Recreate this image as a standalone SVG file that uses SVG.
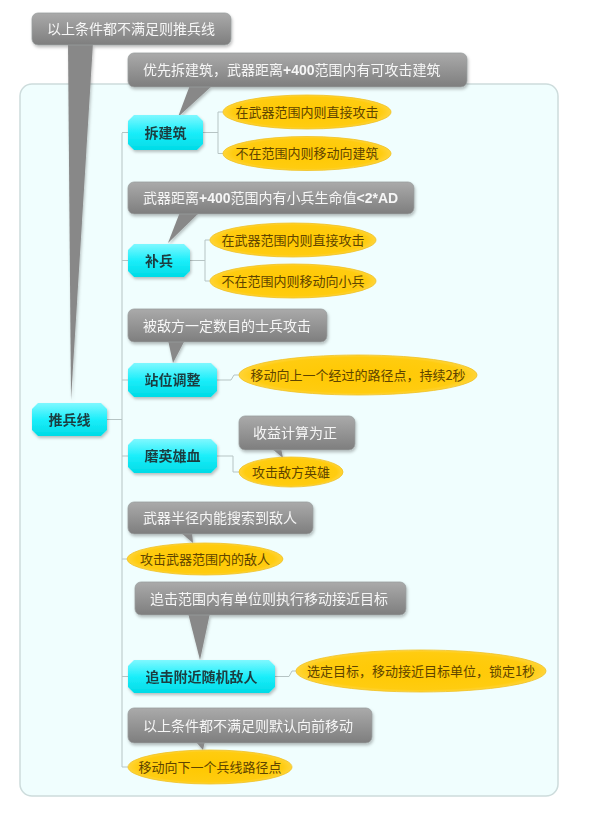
<svg xmlns="http://www.w3.org/2000/svg" width="599" height="813" viewBox="0 0 599 813">
<defs>
<linearGradient id="gGray" x1="0" y1="0" x2="0" y2="1">
<stop offset="0" stop-color="#aaaaaa"/><stop offset="1" stop-color="#7e7e7e"/>
</linearGradient>
<linearGradient id="gCyan" x1="0" y1="0" x2="0" y2="1">
<stop offset="0" stop-color="#7ff8ff"/><stop offset="0.5" stop-color="#1beefa"/><stop offset="1" stop-color="#00dbe6"/>
</linearGradient>
<radialGradient id="gGold" cx="0.5" cy="0.5" r="0.55">
<stop offset="0" stop-color="#ffc800"/><stop offset="0.8" stop-color="#ffcc10"/><stop offset="1" stop-color="#ffdb5a"/>
</radialGradient>
<filter id="sh" x="-10%" y="-10%" width="125%" height="140%">
<feDropShadow dx="1" dy="2" stdDeviation="1.5" flood-color="#000" flood-opacity="0.25"/>
</filter>
</defs>
<style>
.panel{fill:#f0fefe;stroke:#cddcdc;stroke-width:1.5}
.box{fill:url(#gGray);stroke:#9aa0a0;stroke-width:0.8}
.tail{fill:#888888}
.ctext{font-family:"Noto Sans CJK SC","Liberation Sans",sans-serif;font-size:14px;fill:#f6f6f6}
.node{fill:url(#gCyan)}
.ntext{font-family:"Noto Sans CJK SC","Liberation Sans",sans-serif;font-size:14px;font-weight:bold;fill:#1d3d40;text-anchor:middle}
.ell{fill:url(#gGold);stroke:#f0c020;stroke-width:0.8}
.etext{font-family:"Noto Sans CJK SC","Liberation Serif",serif;font-size:13px;fill:#5e4400;text-anchor:middle}
.conn{fill:none;stroke:#b6c4c4;stroke-width:1}
.b{font-family:"Liberation Sans","DejaVu Sans",sans-serif;font-weight:bold}
</style>
<rect class="panel" x="20" y="84" width="538" height="712" rx="12"/>

<g id="connectors">
<path class="conn" d="M107,419.5 H122 M122,133 V767 M122,132.5 H128 M122,260.5 H128 M122,380 H128 M122,456 H128 M122,559 H127 M122,676.5 H128 M122,767 H128"/>
<path class="conn" d="M203,132.5 H218 M218,112 V153.5 M218,112 H223 M218,153.5 H223"/>
<path class="conn" d="M190,260.5 H205 M205,240 V281 M205,240 H210 M205,281 H210"/>
<path class="conn" d="M217,380 H231 L234,375 H239"/>
<path class="conn" d="M217,456 H233 V472 H239"/>
<path class="conn" d="M275,676.5 H289 L292,671 H296"/>
</g>

<g id="callout-top" filter="url(#sh)">
<polygon class="tail" points="68,43 93,43 71,400"/>
<rect class="box" x="32" y="13" width="199" height="32" rx="6"/>
<text class="ctext" x="47" y="34">以上条件都不满足则推兵线</text>
</g>

<g id="node-tuibingxian" filter="url(#sh)">
<path class="node" d="M38,403 H101 L107,409 V430 L101,436 H38 L32,430 V409 Z"/>
<text class="ntext" x="69.5" y="424.5">推兵线</text>
</g>

<g id="callout-chaijianzhu" filter="url(#sh)">
<polygon class="tail" points="190,85 213,85 178,117"/>
<rect class="box" x="128" y="53" width="339" height="34" rx="6"/>
<text class="ctext" x="143" y="75">优先拆建筑，武器距离<tspan class="b">+400</tspan>范围内有可攻击建筑</text>
</g>
<g id="node-chaijianzhu" filter="url(#sh)">
<path class="node" d="M134,115 H197 L203,121 V144 L197,150 H134 L128,144 V121 Z"/>
<text class="ntext" x="165.5" y="137.5">拆建筑</text>
</g>
<g id="leaf-1">
<ellipse class="ell" cx="307" cy="112" rx="84" ry="17"/>
<text class="etext" x="307" y="116.5">在武器范围内则直接攻击</text>
</g>
<g id="leaf-2">
<ellipse class="ell" cx="307" cy="153.5" rx="84" ry="17"/>
<text class="etext" x="307" y="158">不在范围内则移动向建筑</text>
</g>

<g id="callout-bubing" filter="url(#sh)">
<polygon class="tail" points="180,212 200,212 168,243"/>
<rect class="box" x="128" y="182" width="286" height="32" rx="6"/>
<text class="ctext" x="143" y="203">武器距离<tspan class="b">+400</tspan>范围内有小兵生命值<tspan class="b">&lt;2*AD</tspan></text>
</g>
<g id="node-bubing" filter="url(#sh)">
<path class="node" d="M134,244 H184 L190,250 V271 L184,277 H134 L128,271 V250 Z"/>
<text class="ntext" x="159" y="265.5">补兵</text>
</g>
<g id="leaf-3">
<ellipse class="ell" cx="293" cy="240" rx="83" ry="17"/>
<text class="etext" x="293" y="244.5">在武器范围内则直接攻击</text>
</g>
<g id="leaf-4">
<ellipse class="ell" cx="293" cy="281" rx="83" ry="17"/>
<text class="etext" x="293" y="285.5">不在范围内则移动向小兵</text>
</g>

<g id="callout-zhanwei" filter="url(#sh)">
<polygon class="tail" points="168,340 185,340 173,363"/>
<rect class="box" x="128" y="309" width="199" height="33" rx="6"/>
<text class="ctext" x="143" y="330.5">被敌方一定数目的士兵攻击</text>
</g>
<g id="node-zhanwei" filter="url(#sh)">
<path class="node" d="M134,363 H211 L217,369 V391 L211,397 H134 L128,391 V369 Z"/>
<text class="ntext" x="172.5" y="385">站位调整</text>
</g>
<g id="leaf-5">
<ellipse class="ell" cx="358" cy="375" rx="119" ry="20"/>
<text class="etext" x="358" y="379.5">移动向上一个经过的路径点，持续2秒</text>
</g>

<g id="callout-moyingxiong" filter="url(#sh)">
<polygon class="tail" points="271,448 281,448 283,458"/>
<rect class="box" x="239" y="416" width="116" height="34" rx="6"/>
<text class="ctext" x="253" y="438">收益计算为正</text>
</g>
<g id="node-moyingxiong" filter="url(#sh)">
<path class="node" d="M134,439 H211 L217,445 V467 L211,473 H134 L128,467 V445 Z"/>
<text class="ntext" x="172.5" y="461">磨英雄血</text>
</g>
<g id="leaf-6">
<ellipse class="ell" cx="291" cy="472" rx="52" ry="15"/>
<text class="etext" x="291" y="476.5">攻击敌方英雄</text>
</g>

<g id="callout-wuqi" filter="url(#sh)">
<polygon class="tail" points="180,532 192,532 193,543"/>
<rect class="box" x="128" y="502" width="185" height="32" rx="6"/>
<text class="ctext" x="143" y="523">武器半径内能搜索到敌人</text>
</g>
<g id="leaf-7">
<ellipse class="ell" cx="205" cy="559" rx="78" ry="16"/>
<text class="etext" x="205" y="563.5">攻击武器范围内的敌人</text>
</g>

<g id="callout-zhuiji" filter="url(#sh)">
<polygon class="tail" points="188,613 210,613 200,660"/>
<rect class="box" x="135" y="582" width="271" height="33" rx="6"/>
<text class="ctext" x="150" y="603.5">追击范围内有单位则执行移动接近目标</text>
</g>
<g id="node-zhuiji" filter="url(#sh)">
<path class="node" d="M134,660 H269 L275,666 V687 L269,693 H134 L128,687 V666 Z"/>
<text class="ntext" x="201.5" y="681.5">追击附近随机敌人</text>
</g>
<g id="leaf-8">
<ellipse class="ell" cx="421" cy="671" rx="125" ry="21"/>
<text class="etext" x="421" y="675.5">选定目标，移动接近目标单位，锁定1秒</text>
</g>

<g id="callout-default" filter="url(#sh)">
<polygon class="tail" points="195,741 205,741 203,750"/>
<rect class="box" x="128" y="708" width="244" height="35" rx="6"/>
<text class="ctext" x="143" y="730.5">以上条件都不满足则默认向前移动</text>
</g>
<g id="leaf-9">
<ellipse class="ell" cx="210" cy="767" rx="82" ry="17"/>
<text class="etext" x="210" y="771.5">移动向下一个兵线路径点</text>
</g>
</svg>
